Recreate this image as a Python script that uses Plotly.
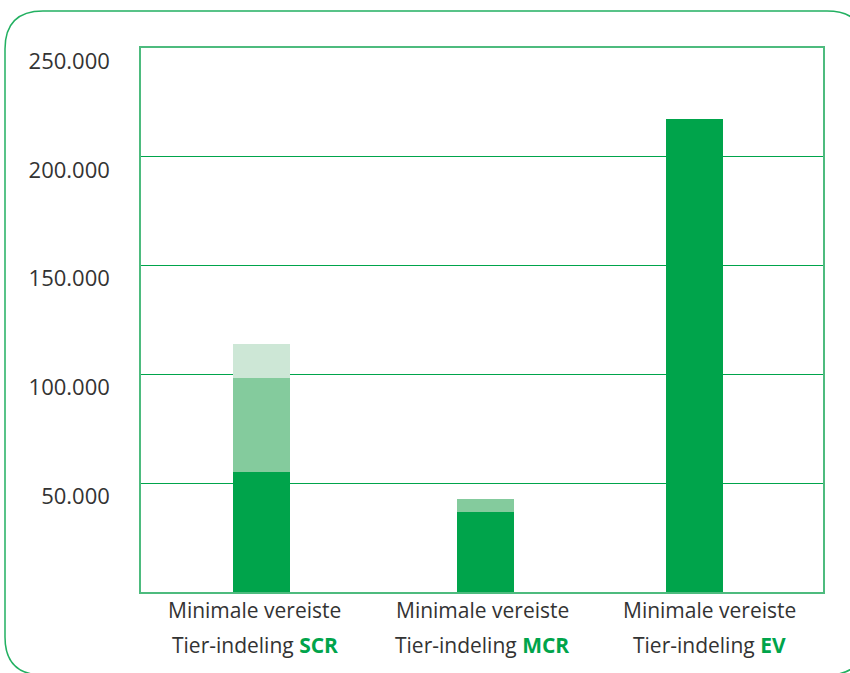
import plotly.graph_objects as go

# ---- data ----
categories = ["SCR", "MCR", "EV"]
tier1 = [55000, 36800, 217400]
tier2 = [43300, 5900, 0]
tier3 = [15600, 0, 0]
ytick_vals = [50000, 100000, 150000, 200000, 250000]
ytick_text = ["50.000", "100.000", "150.000", "200.000", "250.000"]
line1 = "Minimale vereiste"
line2 = "Tier-indeling"

# ---- style ----
DARK = "#00A44B"
MED = "#84CB9D"
LIGHT = "#CDE7D6"
BAR_W = 0.251
BAR_OFF = [-0.096, -0.109, -0.1925]
FONT = "Open Sans"
TXT = "#333333"

W, H = 850, 673
L, R, T, B = 141, 823, 48, 592  # plot area in px

fig = go.Figure()
for vals, col in [(tier1, DARK), (tier2, MED), (tier3, LIGHT)]:
    fig.add_trace(go.Bar(x=categories, y=vals, marker_color=col, marker_line_width=0,
                         width=BAR_W, offset=BAR_OFF, hoverinfo="skip"))

def px(x):
    return (x - L) / (R - L)

def py(y):
    return (B - y) / (B - T)

# outer rounded frame
x0, x1, y0, y1, r = 5, 865, 11, 675, 38
path = (f"M {px(x0+r)},{py(y0)} L {px(x1-r)},{py(y0)} Q {px(x1)},{py(y0)} {px(x1)},{py(y0+r)} "
        f"L {px(x1)},{py(y1-r)} Q {px(x1)},{py(y1)} {px(x1-r)},{py(y1)} "
        f"L {px(x0+r)},{py(y1)} Q {px(x0)},{py(y1)} {px(x0)},{py(y1-r)} "
        f"L {px(x0)},{py(y0+r)} Q {px(x0)},{py(y0)} {px(x0+r)},{py(y0)} Z")
fig.add_shape(type="path", path=path, xref="paper", yref="paper",
              line=dict(color="#22B061", width=1.5), layer="below")

annotations = []
for c in categories:
    annotations.append(dict(x=c, y=py(610), xref="x", yref="paper", text=line1,
                            showarrow=False, font=dict(family=FONT, size=21, color=TXT),
                            xanchor="center", yanchor="middle"))
    annotations.append(dict(x=c, y=py(645), xref="x", yref="paper",
                            text=f"{line2} <b><span style='color:{DARK}'>{c}</span></b>",
                            showarrow=False, font=dict(family=FONT, size=21, color=TXT),
                            xanchor="center", yanchor="middle"))

fig.update_layout(
    width=W, height=H,
    margin=dict(l=L, r=W - R, t=T, b=H - B),
    barmode="stack",
    bargap=0,
    showlegend=False,
    plot_bgcolor="white",
    paper_bgcolor="white",
    font=dict(family=FONT, size=21, color=TXT),
    annotations=annotations,
    xaxis=dict(showticklabels=False, showgrid=False, showline=True, mirror=True,
               linecolor="#4DBB7E", linewidth=1.5, ticks="", fixedrange=True),
    yaxis=dict(range=[0, 250000], tickvals=ytick_vals, ticktext=ytick_text,
               showgrid=True, gridcolor=DARK, gridwidth=1, zeroline=False,
               showline=True, mirror=True, linecolor="#4DBB7E", linewidth=1.5,
               ticks="", ticklabelstandoff=25, ticklabelshift=13,
               tickfont=dict(family=FONT, size=22, color=TXT)),
)

fig.write_html("out.html")
